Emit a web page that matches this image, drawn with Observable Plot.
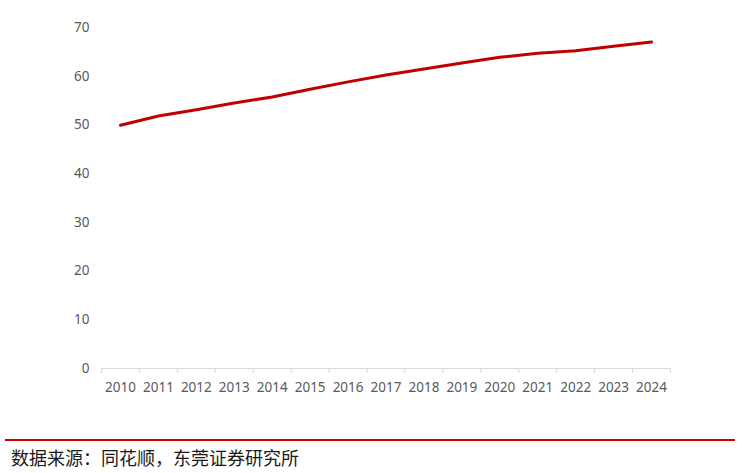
<!DOCTYPE html>
<html>
<head>
<meta charset="utf-8">
<script src="https://cdn.jsdelivr.net/npm/d3@7"></script>
<script src="https://cdn.jsdelivr.net/npm/@observablehq/plot@0.6"></script>
<style>
  html, body { margin: 0; padding: 0; background: #fff; }
  #wrap { position: relative; width: 749px; height: 473px; }
  #chart { position: absolute; left: 0; top: 0; }
  #rule { position: absolute; left: 5px; top: 439px; width: 730px; height: 2px; background: #d40000; }
  #source { position: absolute; left: 11px; top: 446px; font-family: "Noto Sans CJK SC", sans-serif; font-size: 18px; color: #1a1a1a; line-height: 22px; }
</style>
</head>
<body>
<div id="wrap">
  <div id="chart"></div>
  <div id="rule"></div>
  <div id="source">数据来源：同花顺，东莞证券研究所</div>
</div>
<script>
const years = ["2010","2011","2012","2013","2014","2015","2016","2017","2018","2019","2020","2021","2022","2023","2024"];
const values = [49.95, 51.83, 53.10, 54.49, 55.75, 57.33, 58.84, 60.24, 61.50, 62.71, 63.89, 64.72, 65.22, 66.16, 67.00];
const yTicks = [0, 10, 20, 30, 40, 50, 60, 70];

const data = years.map((y, i) => ({year: y, value: values[i]}));
const font = "'Noto Sans', sans-serif";

const chart = Plot.plot({
  width: 749,
  height: 400,
  marginLeft: 101,
  marginRight: 79,
  marginTop: 27,
  marginBottom: 32,
  style: {fontFamily: font, fontSize: "13.5px", color: "#595959", background: "transparent"},
  x: {type: "point", domain: years, padding: 0.5, round: false},
  y: {domain: [0, 70]},
  marks: [
    Plot.axisY({ticks: yTicks, tickSize: 0, tickPadding: 12, label: null, fill: "#595959"}),
    Plot.axisX({tickSize: 0, tickPadding: 14, label: null, fill: "#595959"}),
    Plot.axisX({ticks: years, tickSize: 5, text: null, dx: -19, stroke: "#d9d9d9", label: null}),
    Plot.axisX({ticks: [years[years.length - 1]], tickSize: 5, text: null, dx: 19, stroke: "#d9d9d9", label: null}),
    Plot.ruleY([0], {stroke: "#d9d9d9", strokeWidth: 1}),
    Plot.line(data, {x: "year", y: "value", stroke: "#c00000", strokeWidth: 3, strokeLinecap: "round", strokeLinejoin: "round"})
  ]
});
document.getElementById("chart").appendChild(chart);
</script>
</body>
</html>
